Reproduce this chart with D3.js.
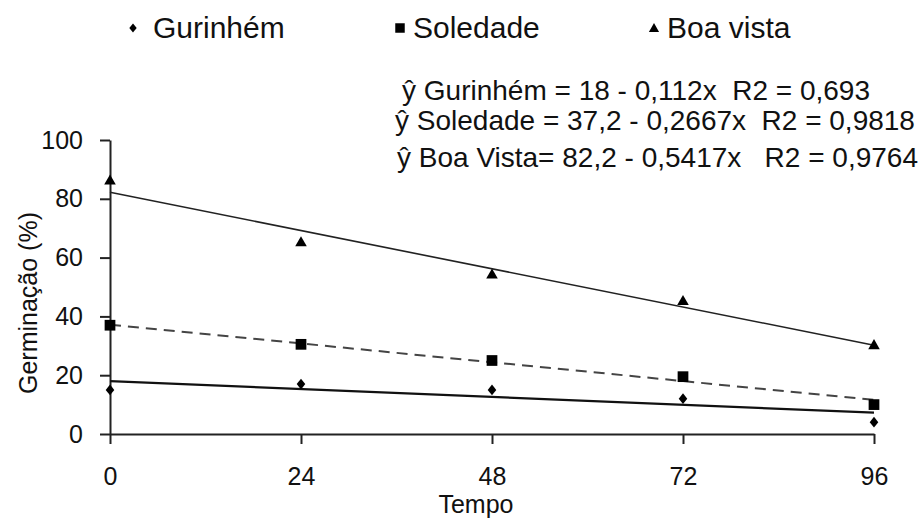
<!DOCTYPE html>
<meta charset="utf-8">
<style>

body {
  background: #fff;
  margin: 0;
}

text {
  font-family: "Liberation Sans", Arial, sans-serif;
  fill: #111;
}

.axis path, .axis line {
  stroke: #222;
  stroke-width: 2px;
}

</style>
<script src="https://cdnjs.cloudflare.com/ajax/libs/d3/7.8.5/d3.min.js"></script>
<body></body>
<script>

var width = 922;
var height = 521;

// tempo (x) values and tick labels
var tempo = [0, 24, 48, 72, 96];
var xTicks = [0, 24, 48, 72, 96];
var yTicks = [0, 20, 40, 60, 80, 100];

// germination (%) per site
var gurinhem = [15, 17, 15, 12, 4];
var soledade = [37, 30.5, 25, 19.5, 10];
var boaVista = [86, 65, 54, 45, 30];

// fitted lines: intercept, slope
var intercepts = [18, 37.2, 82.2];
var slopes = [-0.112, -0.2667, -0.5417];

var seriesNames = ['Gurinhém', 'Soledade', 'Boa vista'];
var equations = [
	'ŷ Gurinhém = 18 - 0,112x  R2 = 0,693',
	'ŷ Soledade = 37,2 - 0,2667x  R2 = 0,9818',
	'ŷ Boa Vista= 82,2 - 0,5417x   R2 = 0,9764'
];

var plotLeft = 110, plotRight = 874, plotTop = 140, plotBottom = 434;

var x = d3.scaleLinear().domain([0, 96]).range([plotLeft, plotRight]);
var y = d3.scaleLinear().domain([0, 100]).range([plotBottom, plotTop]);

// custom diamond, a little wider than d3's
var diamond = {
	draw: function(ctx, size) {
		var h = Math.sqrt(size) * 0.62;
		var w = h * 0.8;
		ctx.moveTo(0, -h);
		ctx.lineTo(w, 0);
		ctx.lineTo(0, h);
		ctx.lineTo(-w, 0);
		ctx.closePath();
	}
};

var markers = [
	d3.symbol().type(diamond).size(75),
	d3.symbol().type(d3.symbolSquare).size(115),
	d3.symbol().type(d3.symbolTriangle).size(58)
];
var legendMarkers = [
	d3.symbol().type(diamond).size(55),
	d3.symbol().type(d3.symbolSquare).size(90),
	d3.symbol().type(d3.symbolTriangle).size(45)
];

var lineStyles = [
	{ w: 2.2, dash: null, color: '#111' },
	{ w: 2, dash: '11,7', color: '#444' },
	{ w: 1.6, dash: null, color: '#222' }
];

var svg = d3.select('body').append('svg')
	.attr('width', width)
	.attr('height', height);

//Axes
svg.append('g')
	.attr('class', 'axis')
	.attr('transform', 'translate(0,' + plotBottom + ')')
	.call(d3.axisBottom(x).tickValues(xTicks).tickSize(10).tickSizeOuter(0).tickPadding(23))
	.call(g => g.selectAll('text').attr('font-size', 25).style('font-family', '"Liberation Sans", Arial, sans-serif').attr('fill', '#111'));

svg.append('g')
	.attr('class', 'axis')
	.attr('transform', 'translate(' + plotLeft + ',0)')
	.call(d3.axisLeft(y).tickValues(yTicks).tickSize(10).tickSizeOuter(0).tickPadding(17))
	.call(g => g.selectAll('text').attr('font-size', 25).style('font-family', '"Liberation Sans", Arial, sans-serif').attr('fill', '#111'));

svg.append('text')
	.attr('x', 476)
	.attr('y', 513)
	.attr('text-anchor', 'middle')
	.attr('font-size', 25)
	.text('Tempo');

svg.append('text')
	.attr('transform', 'translate(37,303) rotate(-90)')
	.attr('text-anchor', 'middle')
	.attr('font-size', 25)
	.text('Germinação (%)');

//Trend lines
var allSeries = [gurinhem, soledade, boaVista];
allSeries.forEach(function(vals, i) {
	var st = lineStyles[i];
	svg.append('line')
		.attr('x1', x(0))
		.attr('y1', y(intercepts[i]))
		.attr('x2', x(96))
		.attr('y2', y(intercepts[i] + slopes[i] * 96))
		.attr('stroke', st.color)
		.attr('stroke-width', st.w)
		.attr('stroke-dasharray', st.dash);
});

//Points
allSeries.forEach(function(vals, i) {
	svg.append('g').selectAll('path')
		.data(vals)
		.enter().append('path')
		.attr('d', markers[i])
		.attr('fill', '#000')
		.attr('transform', (d, j) => 'translate(' + x(tempo[j]) + ',' + y(d) + ')');
});

//Legend
var legendX = [133, 400, 654];
seriesNames.forEach(function(name, i) {
	svg.append('path')
		.attr('d', legendMarkers[i])
		.attr('fill', '#000')
		.attr('transform', 'translate(' + legendX[i] + ',' + (i == 2 ? 29 : 28) + ')');
	svg.append('text')
		.attr('x', legendX[i] + (i == 0 ? 20 : 13))
		.attr('y', 38)
		.attr('font-size', 30)
		.text(name);
});

//Equations
var eqX = [402, 395, 397];
var eqY = [100, 130, 167];
equations.forEach(function(eq, i) {
	svg.append('text')
		.attr('x', eqX[i])
		.attr('y', eqY[i])
		.attr('font-size', 28)
		.style('white-space', 'pre')
		.text(eq);
});

</script>
